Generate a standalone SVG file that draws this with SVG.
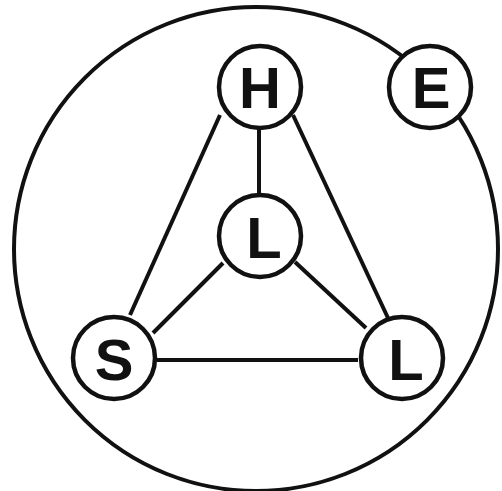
<svg xmlns="http://www.w3.org/2000/svg" width="502" height="491" viewBox="0 0 502 491">
<style>
.c{fill:#fff;stroke:#111;stroke-width:4.5}
.ln{stroke:#111;stroke-width:4;fill:none}
.t{font-family:"Liberation Sans",Arial,sans-serif;font-weight:bold;font-size:58px;fill:#111;text-anchor:middle}
</style>
<rect width="502" height="491" fill="#fff"/>
<circle cx="256" cy="249" r="242" fill="none" stroke="#111" stroke-width="4"/>
<g id="connectors" class="ln">
<line x1="220" y1="115" x2="130" y2="315"/>
<line x1="293" y1="115" x2="388" y2="318"/>
<line x1="259" y1="128" x2="259" y2="194"/>
<line x1="223" y1="263" x2="153" y2="333"/>
<line x1="295" y1="262" x2="366" y2="328"/>
<line x1="157" y1="360" x2="358" y2="360"/>
</g>
<g id="H"><circle class="c" cx="260" cy="87" r="41"/><text class="t" x="260" y="108">H</text></g>
<g id="E"><circle class="c" cx="430" cy="87" r="41"/><text class="t" x="431" y="108">E</text></g>
<g id="Lc"><circle class="c" cx="260" cy="236" r="41"/><text class="t" x="264" y="258">L</text></g>
<g id="S"><circle class="c" cx="114" cy="358" r="41"/><text class="t" x="114" y="380">S</text></g>
<g id="Lr"><circle class="c" cx="402" cy="358" r="41"/><text class="t" x="406" y="380">L</text></g>
</svg>
